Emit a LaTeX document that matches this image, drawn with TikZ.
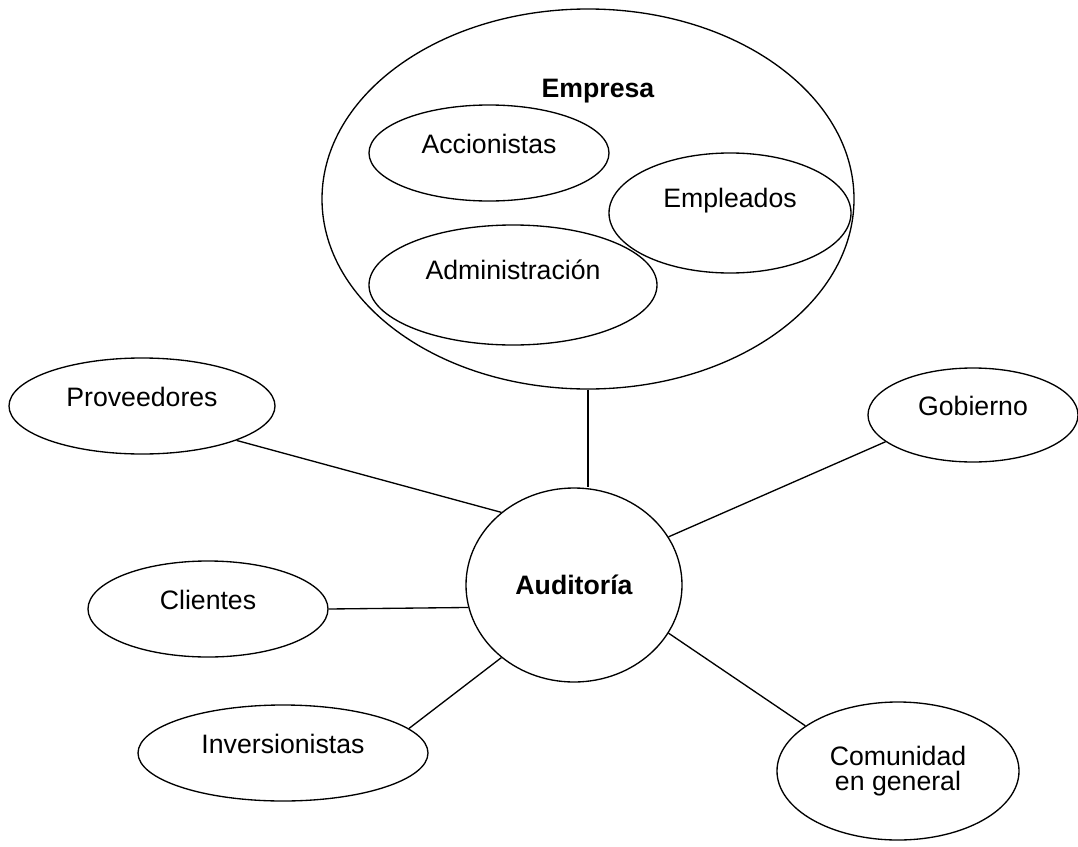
\documentclass[tikz,border=0pt]{standalone}
\usepackage{fontspec}
\setmainfont{Liberation Sans}
\usetikzlibrary{shapes.geometric}

\begin{document}
\begin{tikzpicture}
  [
  x=0.75pt, y=-0.75pt,
  font=\fontsize{20}{21}\selectfont, line width=1pt,
  stakeholder/.style 2 args={ellipse, draw=black, minimum width=1.5pt*#1, minimum height=1.5pt*#2, inner sep=0pt},
  party/.style 2 args={stakeholder={#1}{#2}, text height=0.6em, text depth=0.6em},
  partyhigh/.style 2 args={party={#1}{#2}, text depth=1.5em},
  core/.style={stakeholder={108}{97}, font=\fontsize{20}{21}\selectfont\bfseries}
  ]

\useasboundingbox (0,0) rectangle (1078,846);

% la empresa y sus partes
\node[stakeholder={266}{190}] (empresa) at (588,199) {};
\node[font=\fontsize{20}{21}\selectfont\bfseries] (empresatitle) at (598,91) {Empresa};
\node[party={120}{48}] (accionistas) at (489,153) {Accionistas};
\node[partyhigh={121}{60}] (empleados) at (730,213) {Empleados};
\node[partyhigh={144}{60}] (administracion) at (513,285) {Administración};

% auditoria y grupos de interes
\node[core] (auditoria) at (574,585) {Auditoría};
\node[party={133}{48}] (proveedores) at (142,406) {Proveedores};
\node[party={105}{47}] (gobierno) at (973,415) {Gobierno};
\node[party={120}{48}] (clientes) at (208,609) {Clientes};
\node[party={145}{48}] (inversionistas) at (283,753) {Inversionistas};
\node[stakeholder={121}{69}, align=center, font=\fontsize{20}{18.5}\selectfont] (comunidad) at (898,771) {Comunidad\\en general};

\draw (empresa.south) -- (empresa.south |- auditoria.north);
\draw (proveedores.-20) -- (auditoria.135);
\draw (gobierno.197) -- (auditoria.27);
\draw (clientes.east) -- (auditoria.192.5);
\draw (inversionistas.11) -- (auditoria.225);
\draw (comunidad.154) -- (auditoria.-27);

\end{tikzpicture}
\end{document}
